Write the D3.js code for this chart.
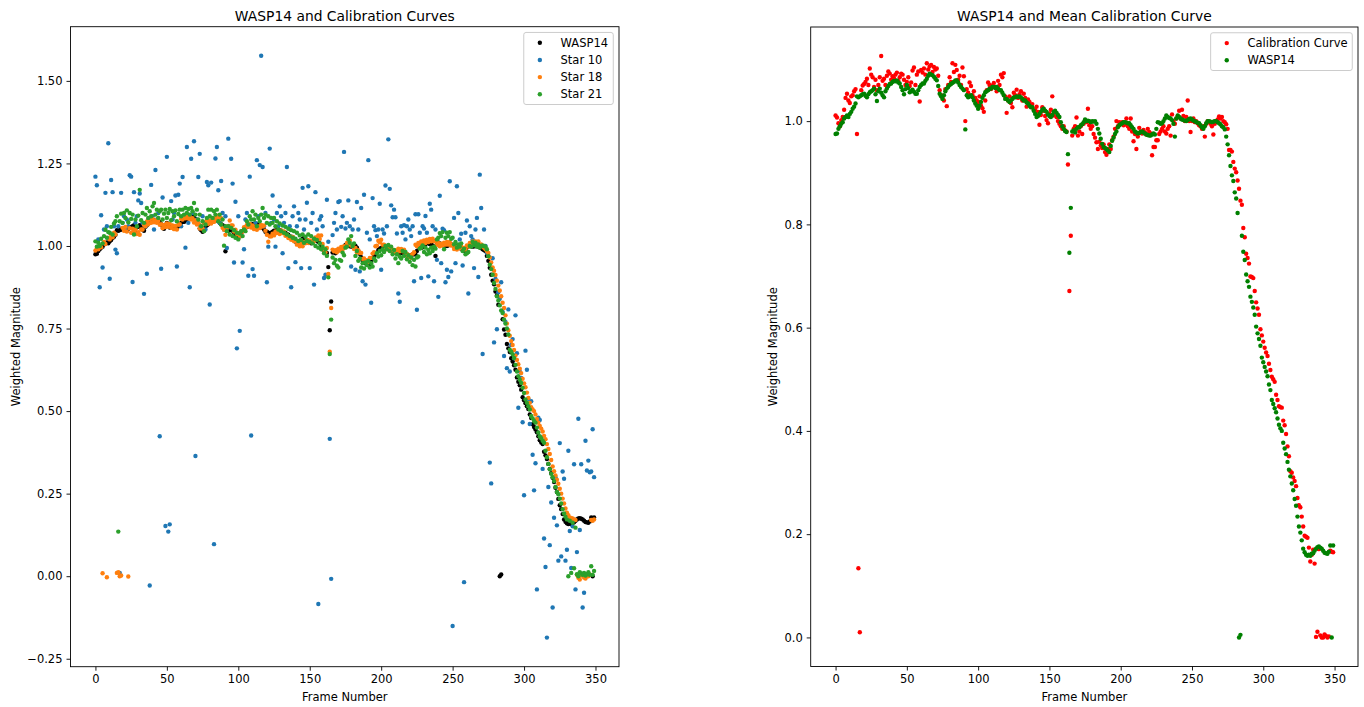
<!DOCTYPE html>
<html>
<head>
<meta charset="utf-8">
<script src="https://cdn.jsdelivr.net/npm/d3@7.9.0/dist/d3.min.js"></script>
<style>
  body { margin: 0; background: #fff; }
  svg text { font-family: "DejaVu Sans", sans-serif; fill: #000; }
</style>
</head>
<body>
<svg id="fig" width="1364" height="707"></svg>
<script>
// frame number is the sample index (0..349)
const wasp14 = [
  0.975,0.976,0.985,0.990,0.995,0.998,1.005,1.008,1.011,1.008,
  1.014,1.018,1.024,1.028,1.034,1.048,1.046,1.048,1.050,1.052,
  1.053,1.049,1.046,1.052,1.056,1.058,1.060,1.063,1.052,1.039,
  1.058,1.063,1.055,1.050,1.046,1.058,1.063,1.068,1.072,1.073,
  1.076,1.078,1.077,1.079,1.075,1.073,1.066,1.060,1.052,1.062,
  1.070,1.064,1.056,1.058,1.061,1.057,1.053,1.053,1.060,1.066,
  1.070,1.073,1.073,1.078,1.082,1.088,1.092,1.090,1.089,1.086,
  1.082,1.079,1.068,1.053,1.048,1.043,1.050,1.058,1.063,1.066,
  1.070,1.072,1.074,1.076,1.079,1.079,1.075,1.070,1.066,1.063,
  1.060,0.984,1.050,1.046,1.048,1.050,1.046,1.040,1.034,1.030,
  1.024,1.030,1.037,1.045,1.050,1.056,1.058,1.060,1.063,1.063,
  1.066,1.066,1.064,1.066,1.063,1.060,1.060,1.055,1.050,1.043,
  1.043,1.040,1.037,1.040,1.043,1.046,1.046,1.048,1.047,1.048,
  1.046,1.043,1.040,1.040,1.036,1.034,1.030,1.027,1.027,1.020,
  1.014,1.008,1.010,1.014,1.018,1.022,1.024,1.020,1.018,1.013,
  1.010,1.008,1.012,1.018,1.020,1.016,1.012,1.008,0.998,0.990,
  0.985,0.981,0.979,0.936,0.745,0.832,0.980,0.982,0.978,0.985,
  0.988,0.988,0.992,0.994,0.998,1.003,1.000,1.001,1.000,0.998,
  1.000,0.999,1.000,0.995,0.985,0.976,0.966,0.956,0.950,0.948,
  0.946,0.943,0.940,0.952,0.962,0.968,0.975,0.980,0.988,0.992,
  0.994,0.996,0.998,0.998,0.997,0.996,0.996,0.992,0.988,0.985,
  0.980,0.978,0.976,0.977,0.979,0.980,0.978,0.976,0.974,0.973,
  0.972,0.972,0.974,0.976,0.974,0.985,0.998,0.997,0.995,0.996,
  1.000,1.005,1.011,1.008,1.006,1.005,1.002,0.995,0.970,1.005,
  1.011,1.008,1.005,1.003,1.002,1.001,1.000,1.002,1.004,1.005,
  1.003,1.001,1.000,0.998,0.997,0.996,0.992,0.988,0.985,0.990,
  0.996,1.000,1.000,0.999,0.998,0.999,1.000,1.000,0.998,0.996,
  0.994,0.990,0.988,0.984,0.970,0.955,0.934,0.913,0.895,0.884,
  0.862,0.850,0.822,0.000,0.005,0.778,0.747,0.731,0.703,0.690,
  0.679,0.660,0.650,0.639,0.625,0.602,0.589,0.578,0.565,0.542,
  0.533,0.524,0.515,0.506,0.490,0.479,0.460,0.452,0.444,0.436,
  0.424,0.412,0.405,0.400,0.377,0.366,0.355,0.340,0.325,0.312,
  0.298,0.285,0.268,0.255,0.234,0.215,0.203,0.188,0.172,0.165,
  0.160,0.158,0.160,0.158,0.162,0.163,0.168,0.172,0.175,0.176,
  0.174,0.172,0.168,0.164,0.163,0.162,0.166,0.178,0.000,0.178
];

const star10 = [
  1.210,1.184,1.020,0.875,1.093,0.935,1.050,1.161,1.060,1.311,
  0.901,1.200,1.163,1.060,0.989,0.978,1.060,0.010,1.161,1.070,
  1.090,1.050,1.080,1.060,1.214,1.210,0.891,1.163,1.070,1.090,
  1.138,1.159,1.130,1.070,0.855,1.060,0.916,1.080,-0.028,1.185,
  1.090,1.050,1.230,1.080,1.100,0.424,0.931,1.147,1.060,0.152,
  1.270,0.135,0.157,1.136,1.080,1.100,1.153,0.938,1.155,1.189,
  1.060,1.209,1.090,0.995,1.300,1.070,0.875,1.264,1.100,1.317,
  0.364,1.080,1.209,1.279,1.060,1.090,1.070,1.050,1.194,1.184,
  0.823,1.192,1.080,0.097,1.265,1.300,1.169,1.070,1.197,1.100,
  1.050,1.090,0.994,1.325,1.060,1.264,1.189,0.950,1.134,0.690,
  1.090,0.743,1.030,0.950,0.990,1.080,1.100,0.910,1.210,0.426,
  0.930,0.910,1.070,1.260,1.090,1.245,1.576,1.239,1.060,1.100,
  0.890,0.998,1.295,1.070,1.153,1.080,0.998,1.100,1.060,1.120,
  1.090,0.978,1.070,1.100,1.239,0.933,1.060,0.875,1.090,1.120,
  0.951,1.060,1.100,1.080,0.933,1.176,1.050,1.080,1.131,1.181,
  0.933,1.070,1.100,0.883,1.163,1.050,-0.084,1.080,1.090,1.060,
  0.903,0.913,1.140,1.013,0.416,-0.008,1.033,1.070,1.100,1.050,
  1.133,1.136,1.058,1.090,1.285,1.053,1.070,1.138,1.060,0.938,
  1.050,1.080,0.928,1.133,1.050,0.923,1.115,0.893,1.155,0.883,
  1.040,1.260,1.020,0.828,1.145,1.060,1.048,1.030,1.050,1.128,
  0.928,1.050,1.038,1.183,1.060,1.323,1.173,1.123,1.087,1.110,
  1.087,1.038,0.856,0.831,1.060,1.040,1.063,1.020,1.060,1.080,
  1.050,1.030,1.060,0.893,1.096,0.807,1.096,1.040,0.903,1.060,
  1.053,1.091,1.040,0.908,1.128,1.110,1.060,0.893,1.050,0.958,
  0.846,1.152,0.948,1.052,1.048,0.890,0.928,0.906,1.196,0.923,
  -0.151,1.085,0.948,1.181,1.100,1.020,1.037,0.941,-0.018,1.040,
  1.077,0.856,1.060,1.030,1.020,0.933,1.050,1.085,0.906,1.216,
  1.115,0.673,1.050,1.000,0.980,0.970,0.344,0.281,0.963,0.708,
  0.900,0.748,0.860,0.840,0.890,0.800,0.667,0.770,0.630,0.808,
  0.620,0.700,0.718,0.660,0.790,0.675,0.510,0.620,0.600,0.466,
  0.245,0.683,0.625,0.537,0.461,0.530,0.368,0.260,0.342,-0.040,
  0.480,0.473,0.420,0.325,0.114,0.028,-0.186,0.270,0.094,0.223,
  -0.095,0.177,0.300,0.154,0.047,0.403,0.060,0.317,0.295,0.047,
  0.080,0.380,0.137,0.025,0.151,0.339,-0.040,0.073,0.477,0.140,
  0.339,-0.095,-0.050,0.410,0.320,0.350,0.315,0.317,0.445,0.300
];

const star18 = [
  0.986,0.993,0.990,1.002,0.996,0.009,1.012,1.006,-0.003,1.024,
  1.020,1.034,1.026,1.040,1.035,0.010,0.012,0.000,0.002,1.055,
  1.046,1.058,1.044,-0.001,1.054,1.040,1.052,1.044,1.050,1.036,
  1.042,1.034,1.050,1.050,1.064,1.060,1.074,1.066,1.080,1.070,
  1.082,1.072,1.078,1.070,1.076,1.064,1.066,1.054,1.064,1.057,
  1.068,1.058,1.067,1.055,1.062,1.051,1.061,1.050,1.064,1.066,
  1.082,1.080,1.092,1.084,1.094,1.083,1.090,1.080,1.084,1.071,
  1.077,1.065,1.069,1.053,1.059,1.052,1.069,1.072,1.078,1.067,
  1.077,1.068,1.077,1.073,1.086,1.080,1.092,1.084,1.084,1.055,
  1.049,1.034,1.054,1.061,1.077,1.062,1.062,1.044,1.049,1.036,
  1.039,1.029,1.044,1.044,1.057,1.054,1.064,1.059,1.067,1.056,
  1.062,1.051,1.057,1.049,1.059,1.054,1.064,1.059,1.062,1.046,
  1.034,1.013,1.029,1.029,1.037,1.032,1.044,1.039,1.047,1.036,
  1.047,1.039,1.044,1.031,1.034,1.024,1.029,1.019,1.027,1.014,
  1.016,1.004,1.009,0.999,1.009,0.999,1.012,1.008,1.019,1.009,
  1.017,1.011,1.017,1.014,1.026,1.021,1.032,1.021,1.032,1.006,
  0.987,0.981,0.994,0.915,0.680,0.812,0.989,0.984,0.987,0.981,
  0.992,0.986,0.997,0.989,0.999,0.996,1.009,1.006,1.017,1.001,
  1.002,0.991,0.994,0.981,0.987,0.979,0.979,0.961,0.962,0.951,
  0.957,0.951,0.964,0.964,0.977,0.981,0.999,1.001,1.016,1.011,
  1.019,1.004,1.004,0.991,0.997,0.989,0.994,0.984,0.989,0.979,
  0.987,0.981,0.992,0.984,0.991,0.984,0.989,0.974,0.976,0.966,
  0.972,0.964,0.976,0.981,1.004,0.999,1.009,1.004,1.014,1.008,
  1.017,1.009,1.019,1.012,1.021,1.014,1.022,1.014,1.016,1.004,
  1.009,0.999,1.007,1.001,1.010,1.004,1.012,1.004,1.012,1.001,
  1.004,0.991,0.997,0.989,0.999,0.993,0.999,0.988,0.994,0.989,
  1.002,0.998,1.009,1.004,1.014,1.006,1.014,1.006,1.014,1.004,
  1.005,1.000,0.995,0.990,0.985,0.979,0.965,0.950,0.935,0.925,
  0.912,0.895,0.880,0.865,0.848,0.828,0.812,0.790,0.765,0.745,
  0.728,0.712,0.700,0.685,0.668,0.655,0.642,0.628,0.615,0.598,
  0.584,0.572,0.556,0.540,0.525,0.512,0.505,0.500,0.490,0.476,
  0.465,0.455,0.447,0.438,0.425,0.415,0.400,0.385,0.370,0.352,
  0.332,0.318,0.305,0.292,0.280,0.265,0.250,0.235,0.220,0.205,
  0.192,0.185,0.178,0.176,0.175,0.172,0.170,0.004,-0.005,-0.010,
  0.002,0.006,-0.004,-0.007,0.003,0.000,0.005,0.170,0.168,0.172
];

const star21 = [
  1.014,0.998,1.010,1.000,1.022,1.008,1.030,1.049,1.025,1.042,
  1.040,1.058,1.035,1.068,1.075,1.090,0.135,1.075,1.098,1.070,
  1.100,1.085,1.108,1.072,1.100,1.082,1.095,1.035,1.080,1.060,
  1.092,1.170,1.078,1.100,1.070,1.095,1.115,1.085,1.105,1.090,
  1.120,1.130,1.095,1.110,1.085,1.105,1.110,1.080,1.098,1.110,
  1.085,1.100,1.112,1.078,1.105,1.090,1.108,1.075,1.097,1.110,
  1.090,1.110,1.095,1.115,1.100,1.112,1.095,1.115,1.105,1.130,
  1.095,1.110,1.080,1.095,1.060,1.075,1.045,1.065,1.085,1.110,
  1.090,1.110,1.085,1.105,1.095,1.110,1.075,1.095,1.065,1.080,
  1.001,1.060,1.045,1.060,1.035,1.055,1.030,1.048,1.025,1.040,
  1.020,1.038,1.045,1.030,1.050,1.045,1.075,1.065,1.090,1.080,
  1.105,1.080,1.095,1.060,1.085,1.075,1.095,1.115,1.085,1.095,
  1.070,1.090,1.065,1.085,1.070,1.085,1.060,1.075,1.050,1.068,
  1.045,1.062,1.040,1.058,1.035,1.052,1.030,1.048,1.025,1.045,
  1.022,1.040,1.015,1.032,1.018,1.035,1.010,1.028,1.015,1.035,
  1.012,1.030,1.008,1.022,1.000,1.018,0.995,1.008,0.990,0.998,
  0.978,0.990,0.970,0.905,0.673,0.777,0.965,0.948,0.958,0.940,
  0.935,0.958,0.955,0.980,0.972,0.995,0.998,1.020,1.010,1.030,
  1.000,1.008,0.970,0.985,0.955,0.962,0.935,0.948,0.932,0.950,
  0.942,0.955,0.935,0.948,0.938,0.962,0.955,0.978,0.968,0.985,
  0.972,0.990,0.982,1.000,0.990,1.003,0.985,0.998,0.975,0.988,
  0.962,0.975,0.948,0.968,0.962,0.985,0.970,0.982,0.960,0.972,
  0.952,0.965,0.942,0.958,0.938,0.965,0.968,0.992,0.995,1.002,
  0.982,0.995,0.975,0.988,0.978,0.995,0.985,0.998,0.992,1.020,
  1.025,1.039,1.030,1.042,0.990,1.025,1.040,1.030,1.042,1.022,
  1.025,1.005,1.012,0.995,1.005,0.998,1.008,0.985,0.992,0.975,
  0.978,0.982,1.000,0.998,1.012,1.002,1.010,0.998,1.005,0.995,
  1.000,1.002,1.000,0.998,0.990,0.969,0.943,0.930,0.913,0.888,
  0.870,0.848,0.835,0.820,0.805,0.797,0.777,0.765,0.750,0.732,
  0.686,0.680,0.672,0.661,0.640,0.620,0.606,0.595,0.585,0.571,
  0.555,0.535,0.525,0.515,0.505,0.485,0.478,0.470,0.465,0.450,
  0.435,0.424,0.418,0.410,0.404,0.380,0.360,0.340,0.324,0.310,
  0.300,0.288,0.270,0.255,0.248,0.235,0.220,0.203,0.190,0.180,
  0.172,0.000,0.168,0.010,0.162,0.024,0.147,0.006,0.000,0.012,
  0.008,0.004,0.010,0.002,0.006,0.012,0.004,0.030,0.004,0.016
];

const calibration = [
  1.011,1.007,0.996,0.990,1.002,1.008,1.022,1.045,1.053,1.040,
  1.035,1.048,1.050,1.058,1.062,0.975,0.134,0.010,1.060,1.069,
  1.072,1.076,1.082,1.070,1.102,1.090,1.085,1.066,1.080,1.060,
  1.070,1.085,1.126,1.078,1.082,1.070,1.088,1.096,1.092,1.080,
  1.087,1.083,1.090,1.094,1.078,1.085,1.092,1.090,1.080,1.070,
  1.076,1.085,1.068,1.075,1.098,1.104,1.070,1.090,1.096,1.038,
  1.099,1.094,1.102,1.090,1.112,1.100,1.106,1.109,1.095,1.105,
  1.100,1.102,1.088,1.060,1.050,1.045,1.040,1.062,1.029,1.070,
  1.085,1.076,1.112,1.095,1.109,1.099,1.080,1.088,1.070,1.104,
  1.087,1.000,1.062,1.055,1.075,1.068,1.050,1.058,1.045,1.040,
  1.037,1.048,1.030,1.025,1.018,1.040,1.060,1.075,1.070,1.062,
  1.069,1.074,1.066,1.058,1.078,1.070,1.090,1.085,1.093,1.048,
  1.016,1.040,1.048,1.035,1.027,1.055,1.050,1.061,1.045,1.052,
  1.058,1.040,1.053,1.045,1.028,1.042,1.037,1.030,1.033,1.022,
  1.022,1.028,1.018,0.993,1.012,1.027,1.020,1.010,1.002,0.996,
  1.015,1.022,1.048,1.011,1.018,1.008,1.000,0.995,0.990,0.985,
  0.990,0.982,0.980,0.916,0.671,0.778,0.972,0.985,0.990,1.007,
  0.972,0.980,0.990,0.975,0.995,1.000,0.998,1.024,0.992,0.985,
  0.990,0.975,0.968,0.959,0.946,0.960,0.953,0.948,0.955,0.940,
  0.935,0.946,0.955,0.946,0.963,0.970,0.985,1.000,0.990,0.998,
  0.995,0.998,0.992,0.994,1.005,0.990,0.985,1.005,0.980,0.961,
  0.975,0.946,0.970,0.987,0.980,0.976,0.983,0.978,0.974,0.985,
  0.979,0.976,0.934,0.950,0.950,0.963,0.963,0.975,0.980,0.985,
  0.990,0.980,0.976,0.985,0.990,0.972,1.013,1.000,0.995,1.005,
  1.010,1.020,1.005,1.022,1.010,1.000,1.008,1.040,1.000,0.979,
  1.000,1.005,0.998,1.000,0.996,0.992,0.990,0.985,0.990,0.970,
  0.995,1.000,0.998,0.995,0.990,0.974,0.995,1.000,1.003,1.009,
  1.005,1.008,1.000,0.998,0.994,0.985,0.944,0.944,0.941,0.921,
  0.908,0.901,0.885,0.869,0.846,0.838,0.793,0.775,0.743,0.735,
  0.724,0.699,0.698,0.696,0.671,0.649,0.637,0.625,0.597,0.585,
  0.573,0.561,0.552,0.545,0.530,0.518,0.505,0.500,0.495,0.470,
  0.460,0.448,0.446,0.445,0.420,0.411,0.394,0.370,0.351,0.322,
  0.319,0.310,0.303,0.293,0.270,0.256,0.252,0.234,0.215,0.197,
  0.195,0.193,0.174,0.147,0.160,0.170,0.143,0.001,0.011,0.171,
  0.004,0.000,0.000,0.006,0.003,0.000,0.002,0.168,0.166,0.165
];

const xTicks = [0, 50, 100, 150, 200, 250, 300, 350];
const leftYTicks = [-0.25, 0, 0.25, 0.5, 0.75, 1.0, 1.25, 1.5];
const leftYLabels = ["\u22120.25", "0.00", "0.25", "0.50", "0.75", "1.00", "1.25", "1.50"];
const rightYTicks = [0, 0.2, 0.4, 0.6, 0.8, 1.0];
const rightYLabels = ["0.0", "0.2", "0.4", "0.6", "0.8", "1.0"];

const svg = d3.select("#fig");

// matplotlib style 5% autoscale margin
function padded(ext) {
  const m = (ext[1] - ext[0]) * 0.05;
  return [ext[0] - m, ext[1] + m];
}

function drawPanel(cfg) {
  const allY = cfg.series.flatMap(s => s.values);
  const x = d3.scaleLinear().domain(padded([0, wasp14.length - 1])).range([cfg.left, cfg.right]);
  const y = d3.scaleLinear().domain(padded(d3.extent(allY))).range([cfg.bottom, cfg.top]);
  const g = svg.append("g");

  // points
  cfg.series.forEach(s => {
    g.append("g").selectAll("circle")
      .data(s.values)
      .join("circle")
      .attr("cx", (d, i) => x(i))
      .attr("cy", d => y(d))
      .attr("r", 2.2)
      .attr("fill", s.color);
  });

  // axes
  const xAxis = g.append("g")
    .attr("transform", `translate(0,${cfg.bottom})`)
    .call(d3.axisBottom(x).tickValues(xTicks).tickSize(4).tickPadding(4));
  const yAxis = g.append("g")
    .attr("transform", `translate(${cfg.left},0)`)
    .call(d3.axisLeft(y).tickValues(cfg.yTicks).tickSize(4).tickPadding(4)
      .tickFormat((d, i) => cfg.yLabels[i]));
  [xAxis, yAxis].forEach(a => {
    a.select(".domain").remove();
    a.attr("font-family", null).attr("font-size", null);
    a.selectAll("line").attr("stroke", "#000").attr("stroke-width", 0.9);
    a.selectAll("text").style("font-size", "11.5px");
  });

  // spines
  g.append("rect")
    .attr("x", cfg.left).attr("y", cfg.top)
    .attr("width", cfg.right - cfg.left).attr("height", cfg.bottom - cfg.top)
    .attr("fill", "none").attr("stroke", "#000").attr("stroke-width", 0.9);

  // title and labels
  const cx = (cfg.left + cfg.right) / 2;
  g.append("text").attr("x", cx).attr("y", 20.5)
    .attr("text-anchor", "middle").style("font-size", "13.85px").text(cfg.title);
  g.append("text").attr("x", cx).attr("y", 701)
    .attr("text-anchor", "middle").style("font-size", "11.5px").text("Frame Number");
  g.append("text")
    .attr("transform", `translate(${cfg.ylabelX},${(cfg.top + cfg.bottom) / 2}) rotate(-90)`)
    .attr("text-anchor", "middle").style("font-size", "11.5px").text("Weighted Magnitude");

  // legend, upper right
  const fs = 11.5;
  const labelW = d3.max(cfg.series, s => s.textW);
  const boxW = 0.4 * fs * 2 + 2 * fs + 0.8 * fs + labelW;
  const rowH = 17.15;
  const boxH = 0.4 * fs * 2 + cfg.series.length * rowH - 0.5 * fs;
  const bx = cfg.right - 0.5 * fs - boxW;
  const by = cfg.top + 0.5 * fs;
  const lg = g.append("g");
  lg.append("rect").attr("x", bx).attr("y", by).attr("width", boxW).attr("height", boxH)
    .attr("rx", 2.3).attr("fill", "#fff").attr("fill-opacity", 0.8)
    .attr("stroke", "#cccccc").attr("stroke-width", 1);
  const items = lg.selectAll("g.item").data(cfg.series).join("g").attr("class", "item")
    .attr("transform", (d, i) => `translate(0,${by + 0.4 * fs + fs / 2 + i * rowH})`);
  items.append("circle").attr("cx", bx + 0.4 * fs + fs).attr("cy", 0).attr("r", 2.2)
    .attr("fill", d => d.color);
  items.append("text").attr("x", bx + 0.4 * fs + 2.8 * fs).attr("y", 0).attr("dy", "0.36em")
    .style("font-size", fs + "px").text(d => d.label);
}

drawPanel({
  left: 70.5, right: 619, top: 26.7, bottom: 666.7,
  title: "WASP14 and Calibration Curves",
  ylabelX: 20,
  yTicks: leftYTicks, yLabels: leftYLabels,
  series: [
    { label: "WASP14", values: wasp14, color: "#000000", textW: 48.1 },
    { label: "Star 10", values: star10, color: "#1f77b4", textW: 41.9 },
    { label: "Star 18", values: star18, color: "#ff7f0e", textW: 41.9 },
    { label: "Star 21", values: star21, color: "#2ca02c", textW: 41.9 }
  ]
});

drawPanel({
  left: 810.7, right: 1358, top: 27, bottom: 666.5,
  title: "WASP14 and Mean Calibration Curve",
  ylabelX: 776.5,
  yTicks: rightYTicks, yLabels: rightYLabels,
  series: [
    { label: "Calibration Curve", values: calibration, color: "#ff0000", textW: 100.2 },
    { label: "WASP14", values: wasp14, color: "#008000", textW: 48.1 }
  ]
});
</script>
</body>
</html>
